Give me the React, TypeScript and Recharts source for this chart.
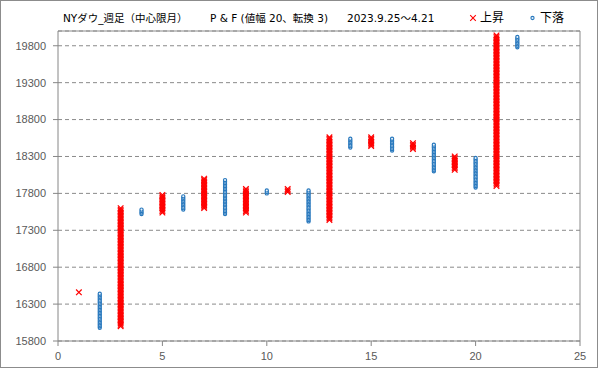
import React from 'react';
import { ScatterChart, Scatter, XAxis, YAxis, CartesianGrid, ReferenceLine } from 'recharts';

// Point & Figure columns (box size 20, 3-box reversal)
const BOX_SIZE = 20;
const columnIndex = [1, 2, 3, 4, 5, 6, 7, 8, 9, 10, 11, 12, 13, 14, 15, 16, 17, 18, 19, 20, 21, 22];
const columnType = ['X', 'O', 'X', 'O', 'X', 'O', 'X', 'O', 'X', 'O', 'X', 'O', 'X', 'O', 'X', 'O', 'X', 'O', 'X', 'O', 'X', 'O'];
const columnLow = [16460, 15980, 16000, 17520, 17540, 17580, 17600, 17520, 17540, 17800, 17820, 17420, 17440, 18420, 18440, 18380, 18400, 18100, 18120, 17880, 17900, 19780];
const columnHigh = [16460, 16440, 17600, 17580, 17780, 17760, 18000, 17980, 17860, 17840, 17860, 17840, 18560, 18540, 18560, 18540, 18480, 18460, 18300, 18280, 19940, 19920];

const xTicks = [0, 5, 10, 15, 20, 25];
const yTicks = [15800, 16300, 16800, 17300, 17800, 18300, 18800, 19300, 19800];

const titleMain = 'NYダウ_週足（中心限月）';
const titlePF = 'P & F (値幅 20、転換 3)';
const titleRange = '2023.9.25～4.21';
const legendUp = '上昇';
const legendDown = '下落';

type Pt = { x: number; y: number };
const boxes = (kind: string): Pt[] => {
  const out: Pt[] = [];
  columnIndex.forEach((c, i) => {
    if (columnType[i] !== kind) return;
    for (let v = columnLow[i]; v <= columnHigh[i] + 0.001; v += BOX_SIZE) out.push({ x: c, y: v });
  });
  return out;
};
const xBoxes = boxes('X');
const oBoxes = boxes('O');

const RED = '#ff0000';
const BLUE = '#2878bd';

const XShape = (p: any) => {
  const { cx, cy } = p;
  if (cx == null || cy == null) return null;
  const s = 2.8;
  return (
    <path
      d={`M${cx - s},${cy - s}L${cx + s},${cy + s}M${cx + s},${cy - s}L${cx - s},${cy + s}`}
      stroke={RED}
      strokeWidth={1.2}
      fill="none"
    />
  );
};

const OShape = (p: any) => {
  const { cx, cy } = p;
  if (cx == null || cy == null) return null;
  return <circle cx={cx} cy={cy} r={1.6} stroke={BLUE} strokeWidth={1.15} fill="#e8f2fb" />;
};

const font = '"DejaVu Sans", "Noto Sans CJK JP", sans-serif';
const tickStyle = { fontSize: 11, fill: '#595959', fontFamily: '"Liberation Sans", "Noto Sans", sans-serif' };

export default function App() {
  return (
    <div style={{ position: 'absolute', left: 0, top: 0, width: 599, height: 369, background: '#fff', fontFamily: font }}>
      <ScatterChart width={599} height={369} margin={{ top: 31, right: 19, bottom: 0, left: 0 }}>
        <CartesianGrid vertical={false} stroke="#8a8a8a" strokeDasharray="4 3" />
        <ReferenceLine y={20000} stroke="#8a8a8a" strokeWidth={1} ifOverflow="extendDomain" />
        <ReferenceLine x={25} stroke="#8a8a8a" strokeWidth={1} />
        <XAxis
          type="number"
          dataKey="x"
          domain={[0, 25]}
          ticks={xTicks}
          interval={0}
          height={28}
          stroke="#868686"
          tickSize={5}
          tickMargin={6}
          tick={tickStyle}
          allowDataOverflow
        />
        <YAxis
          type="number"
          dataKey="y"
          domain={[15800, 20000]}
          ticks={yTicks}
          interval={0}
          width={58}
          stroke="#868686"
          tickSize={5}
          tickMargin={7}
          tick={tickStyle}
          allowDataOverflow
        />
        <Scatter data={xBoxes} shape={XShape} isAnimationActive={false} />
        <Scatter data={oBoxes} shape={OShape} isAnimationActive={false} />
      </ScatterChart>
      <div style={{ position: 'absolute', left: 63, top: 10, fontSize: 10.5, color: '#000', whiteSpace: 'nowrap', lineHeight: '16px' }}>{titleMain}</div>
      <div style={{ position: 'absolute', left: 210, top: 10, fontSize: 10.5, color: '#000', whiteSpace: 'nowrap', lineHeight: '16px' }}>{titlePF}</div>
      <div style={{ position: 'absolute', left: 347, top: 10, fontSize: 10.5, color: '#000', whiteSpace: 'nowrap', lineHeight: '16px' }}>{titleRange}</div>
      <svg style={{ position: 'absolute', left: 468, top: 13 }} width={10} height={10}>
        <path d="M2.2,2.2L7.8,7.8M7.8,2.2L2.2,7.8" stroke={RED} strokeWidth={1.1} />
      </svg>
      <div style={{ position: 'absolute', left: 480, top: 9, fontSize: 12, color: '#000', whiteSpace: 'nowrap', lineHeight: '18px' }}>{legendUp}</div>
      <svg style={{ position: 'absolute', left: 528, top: 13 }} width={10} height={10}>
        <circle cx={4.5} cy={5} r={1.6} stroke={BLUE} strokeWidth={1.1} fill="#e8f2fb" />
      </svg>
      <div style={{ position: 'absolute', left: 540, top: 9, fontSize: 12, color: '#000', whiteSpace: 'nowrap', lineHeight: '18px' }}>{legendDown}</div>
      <div style={{ position: 'absolute', left: 0, top: 0, width: 598, height: 368, border: '1px solid #8c8c8c', boxSizing: 'border-box', pointerEvents: 'none' }} />
    </div>
  );
}
